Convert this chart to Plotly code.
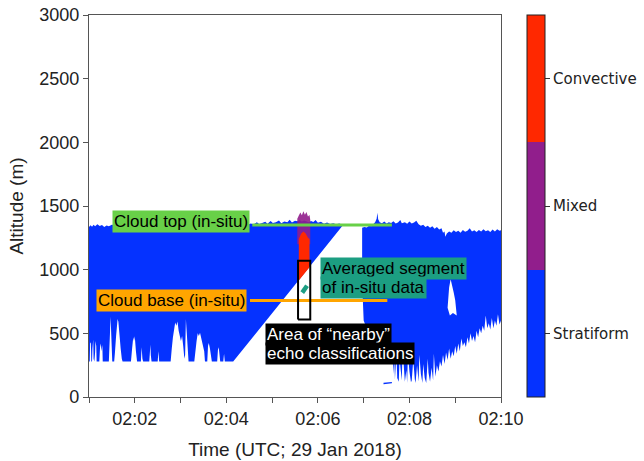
import pandas as pd
import plotly.graph_objects as go

# ---------------- data (time in seconds after 02:00:00 UTC, altitude in m) ----------------
BASE_TIME = pd.Timestamp("2018-01-29 02:00:00")

class_names = ["Stratiform", "Mixed", "Convective"]
class_values = [0, 1, 2]

# left echo block: ragged top (west -> east)
left_top_t = [60, 62, 64, 66, 68, 71, 74, 77, 80, 83, 86, 90, 120, 160, 200, 240, 268, 272, 276, 280, 283,
              287, 291, 294, 298, 301, 305, 309, 312, 316, 320, 323, 326, 330, 333, 336, 339, 342, 345, 348,
              351, 354, 357, 360, 364, 368, 372, 376, 380, 384, 388, 393]
left_top_alt = [1335, 1348, 1338, 1352, 1340, 1356, 1342, 1350, 1336, 1346, 1340, 1352, 1345, 1350, 1345, 1350,
                1352, 1362, 1356, 1372, 1358, 1366, 1376, 1360, 1382, 1366, 1372, 1386, 1364, 1378, 1372, 1392,
                1370, 1385, 1380, 1390, 1378, 1386, 1380, 1372, 1382, 1375, 1390, 1368, 1376, 1360, 1370, 1358,
                1365, 1356, 1362, 1350]
# left echo block: ragged base with white streaks (west -> east)
left_base_t = [60, 61, 61.5, 62.5, 63, 64, 64.5, 65.5, 66, 67, 68, 68.5, 69.5, 70, 71,
               73.5, 74.5, 75.5, 76.5, 77.5, 78,
               86, 87.5, 88.3, 89, 90.5,
               93, 94, 95.5, 96.5, 97.5, 98.5, 99.5, 100.5, 101.5, 103, 104,
               115, 116.5, 118, 119, 120, 121.5, 123,
               128, 129, 130, 131, 139, 140.5, 141, 142,
               150, 151, 152,
               167, 168.5, 170, 171.5, 173, 174.5, 176, 177.5, 179, 180.5, 182, 183.5, 185,
               186, 187, 188, 189.5, 190.5,
               198, 199.5, 201, 202.5, 204, 205.5, 207, 209, 211, 212,
               215, 216, 217, 218.5, 220, 221,
               228, 229, 230, 231, 232, 236, 237, 238, 249]
left_base_alt = [278, 278, 420, 430, 278, 278, 380, 450, 300, 278, 350, 440, 400, 278, 278,
                 278, 390, 420, 360, 410, 278,
                 278, 500, 630, 520, 278,
                 278, 350, 480, 560, 612, 590, 540, 470, 380, 300, 278,
                 278, 380, 470, 440, 478, 360, 278,
                 278, 390, 300, 278, 278, 410, 330, 278,
                 278, 360, 278,
                 278, 380, 470, 540, 585, 560, 592, 520, 470, 440, 480, 400, 300,
                 330, 610, 560, 380, 278,
                 278, 360, 440, 500, 480, 505, 450, 420, 360, 278,
                 278, 400, 425, 380, 330, 278,
                 278, 370, 390, 320, 278, 278, 340, 278, 278]

# right echo block: ragged top (west -> east)
right_top_t = [418, 421, 424, 427, 430, 433, 435, 437, 438, 439, 441, 444, 447, 450, 453, 456, 459, 462, 465, 468,
               470, 474, 477, 480, 483, 486, 489, 492, 495, 498, 501, 504, 507, 510, 513, 516, 519, 522, 524, 526,
               527, 529, 532, 535, 538, 541, 544, 547, 550, 553, 556, 559, 562, 565, 568, 571, 574, 577, 580, 583,
               586, 589, 592, 595, 598, 600]
right_top_alt = [1329, 1335, 1332, 1345, 1340, 1360, 1372, 1400, 1447, 1395, 1372, 1365, 1378, 1362, 1372, 1366,
                 1380, 1362, 1370, 1390, 1365, 1372, 1360, 1378, 1362, 1370, 1384, 1356, 1345, 1352, 1336, 1345,
                 1330, 1340, 1322, 1335, 1315, 1325, 1290, 1300, 1259, 1285, 1300, 1290, 1310, 1295, 1305, 1290,
                 1312, 1298, 1305, 1325, 1300, 1310, 1295, 1312, 1300, 1318, 1302, 1310, 1296, 1315, 1300, 1318,
                 1305, 1310]
# right echo block: ragged base with streaks (west -> east)
right_base_t = [418, 420, 422, 430, 440, 450, 456, 458, 459, 460, 461, 462, 463, 464, 466, 467, 468, 470, 471,
                472, 474, 476, 477, 478, 480, 482, 483, 485, 487, 488, 490, 492, 493, 495, 497, 498, 500, 502,
                504, 505, 507, 509, 511, 512, 514, 516, 518, 520, 522, 524, 526, 528, 530, 532, 534, 536, 538,
                540, 542, 544, 546, 548, 550, 552, 554, 556, 558, 560, 562, 564, 566, 568, 570, 572, 574, 576,
                578, 580, 582, 584, 586, 588, 590, 592, 594, 596, 598, 600]
right_base_alt = [900, 600, 570, 520, 480, 440, 400, 300, 180, 330, 140, 280, 360, 150, 120, 300, 240, 130, 380,
                  260, 120, 210, 110, 340, 200, 115, 130, 290, 140, 110, 250, 120, 330, 180, 110, 260, 150, 110,
                  300, 190, 120, 230, 130, 340, 160, 250, 200, 280, 240, 330, 260, 350, 290, 380, 300, 360, 320,
                  400, 340, 420, 360, 460, 400, 430, 390, 470, 420, 500, 440, 480, 430, 520, 470, 540, 500, 560,
                  520, 640, 540, 580, 530, 620, 540, 600, 560, 650, 570, 600]
# white hole inside the right block
hole_t = [530, 532, 534, 536, 538, 540, 542, 537, 533]
hole_alt = [700, 860, 925, 880, 820, 760, 640, 660, 640]
# isolated low echo fragment
frag_t = [446, 457, 457, 446]
frag_alt = [100, 108, 118, 112]

# mixed / convective column
mixed_t = [333, 333, 335, 337, 339, 341, 343, 345, 347, 349, 350, 350]
mixed_alt = [1200, 1400, 1425, 1448, 1428, 1458, 1432, 1452, 1418, 1430, 1392, 1200]
conv_t = [335, 335, 338, 341, 344, 347, 349, 349]
conv_alt = [915, 1240, 1282, 1300, 1285, 1250, 1240, 1019]

# in-situ reference lines and averaged segment
cloud_top_t = [274, 457]
cloud_top_alt = [1350, 1350]
cloud_base_t = [271, 451]
cloud_base_alt = [757, 757]
avg_seg_t = [339.5, 345.8]
avg_seg_alt = [820, 874]
nearby_t = [334, 350, 350, 334, 334]
nearby_alt = [608, 608, 1071, 1071, 608]

x_tick_secs = [60, 120, 180, 240, 300, 360, 420, 480, 540, 600]
x_tick_text = ["", "02:02", "", "02:04", "", "02:06", "", "02:08", "", "02:10"]
y_ticks = [0, 500, 1000, 1500, 2000, 2500, 3000]

# ---------------- styling ----------------
BLUE = "rgb(5,50,255)"
PURPLE = "rgb(145,30,140)"
RED = "rgb(255,40,0)"
GREEN = "rgb(104,208,72)"
ORANGE = "rgb(255,165,0)"
TEAL = "rgb(28,158,130)"
FONT = "Liberation Sans, Arial, Helvetica, sans-serif"


def T(secs):
    return [(BASE_TIME + pd.Timedelta(seconds=float(s))).strftime("%Y-%m-%d %H:%M:%S.%f") for s in secs]


fig = go.Figure()


def poly(ts, alts, color, opacity=1.0):
    fig.add_trace(go.Scatter(x=T(ts), y=alts, mode="lines", fill="toself", fillcolor=color,
                             line=dict(width=0, color=color), opacity=opacity,
                             hoverinfo="skip", showlegend=False))


poly(left_top_t + left_base_t[::-1], left_top_alt + left_base_alt[::-1], BLUE)
poly(right_top_t + right_base_t[::-1], right_top_alt + right_base_alt[::-1], BLUE)
poly(hole_t, hole_alt, "white")
poly(frag_t, frag_alt, BLUE)
poly(mixed_t, mixed_alt, PURPLE, 0.9)
poly(conv_t, conv_alt, RED)

fig.add_trace(go.Scatter(x=T(cloud_top_t), y=cloud_top_alt, mode="lines",
                         line=dict(color=GREEN, width=3), hoverinfo="skip", showlegend=False))
fig.add_trace(go.Scatter(x=T(cloud_base_t), y=cloud_base_alt, mode="lines",
                         line=dict(color=ORANGE, width=3), hoverinfo="skip", showlegend=False))
fig.add_trace(go.Scatter(x=T(avg_seg_t), y=avg_seg_alt, mode="lines",
                         line=dict(color=TEAL, width=4.5), hoverinfo="skip", showlegend=False))
fig.add_trace(go.Scatter(x=T(nearby_t), y=nearby_alt, mode="lines",
                         line=dict(color="black", width=2), hoverinfo="skip", showlegend=False))

# colorbar carrier
cscale = [[0, BLUE], [1 / 3, BLUE], [1 / 3, PURPLE], [2 / 3, PURPLE], [2 / 3, RED], [1, RED]]
fig.add_trace(go.Scatter(
    x=T([300, 300, 300]), y=[2500, 2500, 2500], mode="markers",
    marker=dict(size=0, opacity=0, color=class_values, colorscale=cscale, cmin=-0.5, cmax=2.5,
                showscale=True,
                colorbar=dict(x=1.063, xanchor="left", xpad=0, y=0.5, yanchor="middle", len=1, ypad=0,
                              thickness=18, outlinewidth=1, outlinecolor="#222",
                              tickvals=class_values, ticktext=class_names, ticks="outside",
                              ticklen=5, tickcolor="#333",
                              tickfont=dict(family="DejaVu Sans", size=15, color="#222"))),
    hoverinfo="skip", showlegend=False))


def label(text, t, alt, bg, color="black"):
    fig.add_annotation(x=T([t])[0], y=alt, xref="x", yref="y", text=text, showarrow=False,
                       xanchor="left", yanchor="middle", bgcolor=bg, borderpad=1,
                       font=dict(family=FONT, size=17, color=color))


label("Cloud top (in-situ)", 89.8, 1380, GREEN)
label("Cloud base (in-situ)", 68.8, 761, ORANGE)
label("Averaged segment", 363, 1008, TEAL)
label("of in-situ data", 363, 863, TEAL)
label("Area of \u201cnearby\u201d", 290.8, 488, "black", "white")
label("echo classifications", 290.8, 343, "black", "white")

fig.update_layout(
    width=644, height=461,
    margin=dict(l=89, r=143, t=15, b=64, autoexpand=False),
    plot_bgcolor="white", paper_bgcolor="white",
    font=dict(family=FONT, color="#222"),
    showlegend=False,
)
fig.update_xaxes(
    range=T([60, 600]), tickvals=T(x_tick_secs), ticktext=x_tick_text,
    ticks="outside", ticklen=5, tickcolor="#555", showgrid=False, zeroline=False,
    showline=True, linecolor="#555", linewidth=1.2, mirror=True,
    tickfont=dict(family=FONT, size=18, color="#222"),
    title=dict(text="Time (UTC; 29 Jan 2018)", font=dict(family=FONT, size=19, color="#222"), standoff=14),
)
fig.update_yaxes(
    range=[0, 3000], tickvals=y_ticks, ticks="outside", ticklen=5, tickcolor="#555",
    showgrid=False, zeroline=False, showline=True, linecolor="#555", linewidth=1.2, mirror=True,
    tickfont=dict(family=FONT, size=18, color="#222"),
    title=dict(text="Altitude (m)", font=dict(family=FONT, size=19, color="#222"), standoff=10),
)

fig.write_html("out.html")
